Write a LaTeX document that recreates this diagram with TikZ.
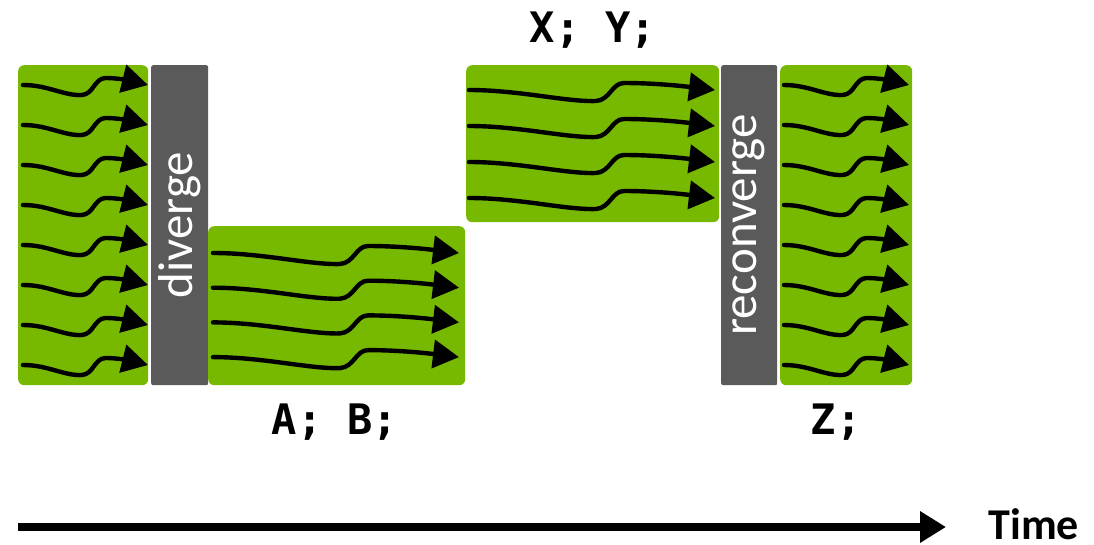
\documentclass[tikz,border=0pt]{standalone}
\usepackage{fontspec}
\setmainfont{Carlito}
\newfontfamily\codefont{DejaVu Sans Mono}
\usetikzlibrary{arrows.meta}
\definecolor{warpgreen}{HTML}{76B900}
\definecolor{syncgray}{HTML}{5A5A5A}
\tikzset{
  greenbox/.style={fill=warpgreen, rounded corners=6pt, anchor=north west, inner sep=0pt},
  graybox/.style={fill=syncgray, rounded corners=2pt, anchor=north west, inner sep=0pt},
  barlabel/.style={rotate=90, text=white, font=\fontsize{49}{52}\selectfont},
  codelabel/.style={font=\codefont\bfseries\fontsize{42}{46}\selectfont},
  thread/.style={line width=4.4pt, line cap=round, -{Triangle[length=26pt,width=28pt]}},
  timeline/.style={line width=8pt, -{Triangle[length=26pt,width=30pt]}},
}
% short wavy thread, 124 units long
\newcommand{\shortthread}[2]{%
  \draw[thread] (#1,#2) .. controls +(25,0) and +(-18,1) .. ++(59,10)
    .. controls +(12,-1) and +(-12,0) .. ++(24,-17)
    .. controls +(12,0) and +(-16,-4) .. ++(42,7);}
% long wavy thread, 245 units long
\newcommand{\longthread}[2]{%
  \draw[thread] (#1,#2) .. controls +(50,0) and +(-30,1) .. ++(127,11)
    .. controls +(14,-1) and +(-12,0) .. ++(28,-18)
    .. controls +(35,0) and +(-25,-3) .. ++(91,7);}
\begin{document}
\begin{tikzpicture}[x=1pt,y=-1pt]
  \useasboundingbox (0,0) rectangle (1094,544);

  % warp segments
  \node[greenbox, minimum width=130pt, minimum height=320pt] (pre) at (18,65) {};
  \node[graybox, minimum width=57pt, minimum height=320pt] (div) at (151,65) {};
  \node[greenbox, minimum width=257pt, minimum height=159pt] (ab) at (208,226) {};
  \node[greenbox, minimum width=253pt, minimum height=157pt] (xy) at (466,65) {};
  \node[graybox, minimum width=56pt, minimum height=320pt] (rec) at (721,65) {};
  \node[greenbox, minimum width=132pt, minimum height=320pt] (post) at (780,65) {};

  \node[barlabel] (divtext) at (div.center) {diverge};
  \node[barlabel] (rectext) at (rec.center) {reconverge};

  % threads
  \foreach \i in {0,...,7} {
    \shortthread{23}{85+40*\i}
    \shortthread{784}{85+40*\i}
  }
  \foreach \i in {0,...,3} {
    \longthread{213}{253+34.7*\i}
    \longthread{469}{90+36*\i}
  }

  % code labels
  \node[codelabel] (labab) at (335,422) {A; B;};
  \node[codelabel] (labxy) at (593,30) {X; Y;};
  \node[codelabel] (labz) at (836,422) {Z;};

  % time axis
  \coordinate (t0) at (18,527);
  \coordinate (t1) at (946,527);
  \draw[timeline] (t0) -- (t1);
  \node[font=\bfseries\fontsize{44}{46}\selectfont, anchor=west] (time) at (985,524) {Time};
\end{tikzpicture}
\end{document}
